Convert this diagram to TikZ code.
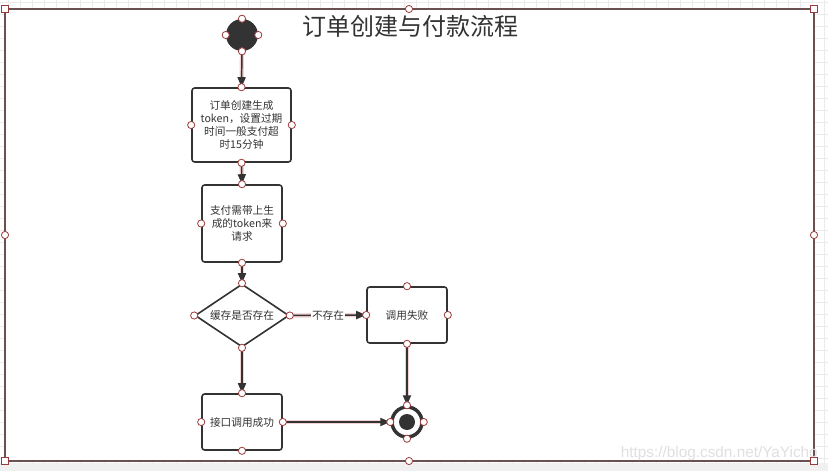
\documentclass[tikz,border=0pt]{standalone}
\usepackage{fontspec}
\setmainfont{Noto Sans CJK SC}
\newfontfamily\wmfont{Liberation Sans}
\usetikzlibrary{shapes.geometric,arrows.meta}
\definecolor{ink}{HTML}{333333}
\definecolor{hred}{HTML}{9A3A3A}
\definecolor{framec}{HTML}{6A5050}
\definecolor{gridc}{HTML}{EBEBEB}
\definecolor{halo}{HTML}{F2D2D2}
\definecolor{stripc}{HTML}{F0F0F0}
\tikzset{
  box/.style={draw=ink, line width=1.2pt, rounded corners=2pt, fill=white, align=center,
    font=\fontsize{8}{9.75}\selectfont, text=ink, inner sep=0pt},
  decision/.style={draw=ink, line width=1.2pt, diamond, aspect=1.5, fill=white, inner sep=0pt,
    font=\fontsize{8}{9.75}\selectfont, text=ink},
  handle/.style={circle, draw=hred, fill=white, line width=0.6pt, inner sep=0pt, minimum size=5.4pt},
  shandle/.style={rectangle, draw=hred, fill=white, line width=0.8pt, inner sep=0pt, minimum size=5.4pt},
  flow/.style={draw=ink, line width=1.1pt, -{Triangle[length=7.5pt,width=6pt]},
    preaction={draw=halo, line width=3.2pt}},
}
\begin{document}
\begin{tikzpicture}[x=0.75pt,y=-0.75pt]
\useasboundingbox (0,0) rectangle (828,471);
% background grid
\fill[white] (0,0) rectangle (828,471);
\foreach \gx in {8,20,...,828} \draw[gridc, line width=0.6pt] (\gx,0) -- (\gx,471);
\foreach \gy in {2,14,...,471} \draw[gridc, line width=0.6pt] (0,\gy) -- (828,\gy);
\fill[white] (5,9) rectangle (814,461);
\fill[stripc] (0,463) rectangle (828,471);
% frame
\draw[framec, line width=1.5pt] (5,9) rectangle (814,461);

% title
\node[text=ink, font=\fontsize{18}{20}\selectfont] (title) at (410,26) {订单创建与付款流程};

% nodes
\node[circle, fill=ink, minimum size=24pt, inner sep=0pt] (start) at (242,35) {};
\node[box, minimum width=74.25pt, minimum height=55.5pt] (b1) at (241.5,125)
  {订单创建生成\\token，设置过期\\时间一般支付超\\时15分钟};
\node[box, minimum width=60pt, minimum height=57.75pt] (b2) at (242,223.5)
  {支付需带上生\\成的token来\\请求};
\node[decision, minimum width=70.5pt, minimum height=47.25pt] (d) at (242,315.5) {缓存是否存在};
\node[box, minimum width=60pt, minimum height=42pt] (fail) at (407,315) {调用失败};
\node[box, minimum width=60pt, minimum height=42pt] (ok) at (242,422) {接口调用成功};
\node[circle, draw=ink, line width=2.6pt, fill=white, minimum size=22.5pt, inner sep=0pt] (end) at (407,422) {};
\node[circle, fill=ink, minimum size=12pt, inner sep=0pt] (endin) at (end.center) {};

% connectors
\draw[flow] (start.south) -- (b1.north);
\draw[flow] (b1.south) -- (b2.north);
\draw[flow] (b2.south) -- (d.north);
\draw[flow] (d.east) -- node[fill=white, inner sep=1pt, text=ink, font=\fontsize{8}{9}\selectfont] (lbl) {不存在} (fail.west);
\draw[flow] (d.south) -- (ok.north);
\draw[flow] (fail.south) -- (end.north);
\draw[flow] (ok.east) -- (end.west);

% connection handles
\foreach \n in {start,b1,b2,d,fail,ok,end}
  \foreach \a in {north,south,east,west}
    \node[handle] (h-\n-\a) at (\n.\a) {};

% frame handles
\node[shandle] (fc1) at (5,9) {};
\node[shandle] (fc2) at (814,9) {};
\node[shandle] (fc3) at (5,461) {};
\node[shandle] (fc4) at (814,461) {};
\node[handle] (fm1) at (409,9) {};
\node[handle] (fm2) at (409,461) {};
\node[handle] (fm3) at (5,235) {};
\node[handle] (fm4) at (814,235) {};

% watermark
\node[anchor=south east, text=black!12, font=\wmfont\fontsize{11.5}{12}\selectfont, inner sep=0pt] (wm) at (818,461) {https://blog.csdn.net/YaYicho};
\end{tikzpicture}
\end{document}
